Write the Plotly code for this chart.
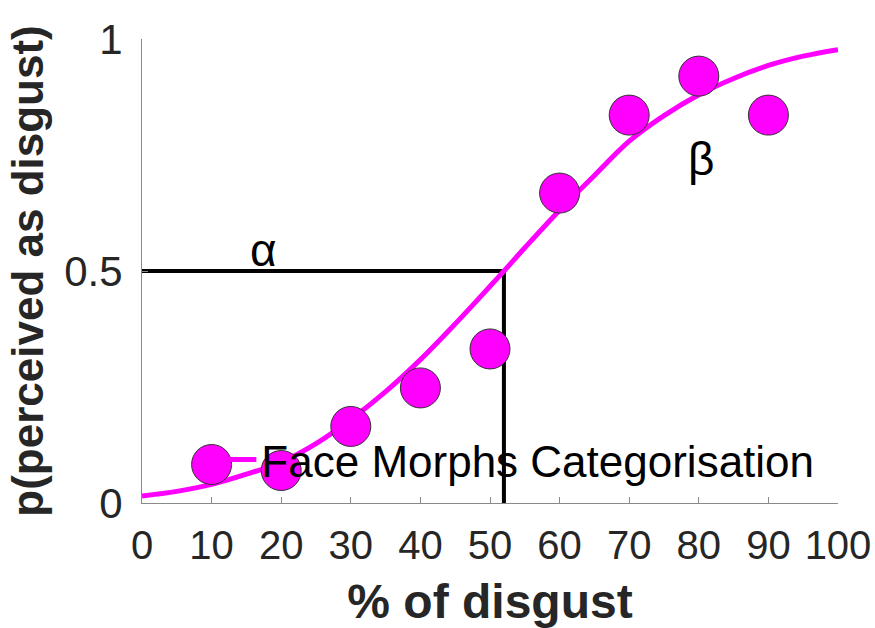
import plotly.graph_objects as go

# ---- data ----
morph_pct = [10, 20, 30, 40, 50, 60, 70, 80, 90]
p_disgust = [0.083, 0.07, 0.165, 0.248, 0.332, 0.668, 0.836, 0.920, 0.836]

fit_x = [0, 5, 10, 15, 20, 25, 30, 35, 40, 45, 50, 52, 55, 60, 65, 70, 75, 80, 85, 90, 95, 100]
fit_y = [0.015, 0.025, 0.040, 0.062, 0.088, 0.128, 0.180, 0.240, 0.309, 0.386, 0.467, 0.500,
         0.550, 0.631, 0.706, 0.780, 0.835, 0.880, 0.915, 0.943, 0.963, 0.977]

alpha_x = 52          # threshold (50 % point)
half_p = 0.5
alpha_pos = (17.4, 0.545)
beta_pos = (80.3, 0.741)

x_ticks = [0, 10, 20, 30, 40, 50, 60, 70, 80, 90, 100]
y_ticks = [0, 0.5, 1]
y_tick_labels = ["0", "0.5", "1"]

legend_name = "Face Morphs Categorisation"
x_title = "% of disgust"
y_title = "p(perceived as disgust)"

FONT = "Liberation Sans, Arial, sans-serif"
MAGENTA = "#ff00ff"
AXIS_GREY = "#8a8a8a"

fig = go.Figure()

# threshold lines (alpha)
fig.add_trace(go.Scatter(
    x=[0, alpha_x, alpha_x], y=[half_p, half_p, 0],
    mode="lines", line=dict(color="black", width=4),
    showlegend=False, hoverinfo="skip", cliponaxis=False))

# fitted psychometric curve
fig.add_trace(go.Scatter(
    x=fit_x, y=fit_y, mode="lines", name=legend_name,
    line=dict(color=MAGENTA, width=5, shape="spline"),
    showlegend=True, cliponaxis=False))

# data points
fig.add_trace(go.Scatter(
    x=morph_pct, y=p_disgust, mode="markers",
    marker=dict(size=40, color=MAGENTA, line=dict(color="#333333", width=1)),
    showlegend=False, cliponaxis=False))

fig.add_annotation(x=alpha_pos[0], y=alpha_pos[1], text="α", showarrow=False,
                   font=dict(family=FONT, size=46, color="black"))
fig.add_annotation(x=beta_pos[0], y=beta_pos[1], text="β", showarrow=False,
                   font=dict(family=FONT, size=46, color="black"))

fig.update_layout(
    width=875, height=628,
    margin=dict(l=142, r=37, t=39, b=125, autoexpand=False),
    plot_bgcolor="white", paper_bgcolor="white",
    font=dict(family=FONT, color="#262626"),
    legend=dict(x=0.114, y=0.093, xanchor="left", yanchor="middle",
                bgcolor="rgba(0,0,0,0)", borderwidth=0,
                font=dict(family=FONT, size=44, color="black")),
    xaxis=dict(range=[0, 100], tickvals=x_ticks, showgrid=False, zeroline=False,
               showline=True, linecolor=AXIS_GREY, linewidth=1,
               ticks="inside", ticklen=6, tickcolor=AXIS_GREY,
               tickfont=dict(family=FONT, size=40, color="#262626"),
               ticklabelstandoff=7,
               title=dict(text="<b>" + x_title + "</b>", standoff=18,
                          font=dict(family=FONT, size=48, color="#262626"))),
    yaxis=dict(range=[0, 1], tickvals=y_ticks, ticktext=y_tick_labels,
               showgrid=False, zeroline=False,
               showline=True, linecolor=AXIS_GREY, linewidth=1,
               ticks="inside", ticklen=6, tickcolor=AXIS_GREY,
               tickfont=dict(family=FONT, size=42, color="#262626"),
               ticklabelstandoff=10,
               title=dict(text="<b>" + y_title + "</b>", standoff=6,
                          font=dict(family=FONT, size=44, color="#262626"))),
)

fig.write_html("out.html")
